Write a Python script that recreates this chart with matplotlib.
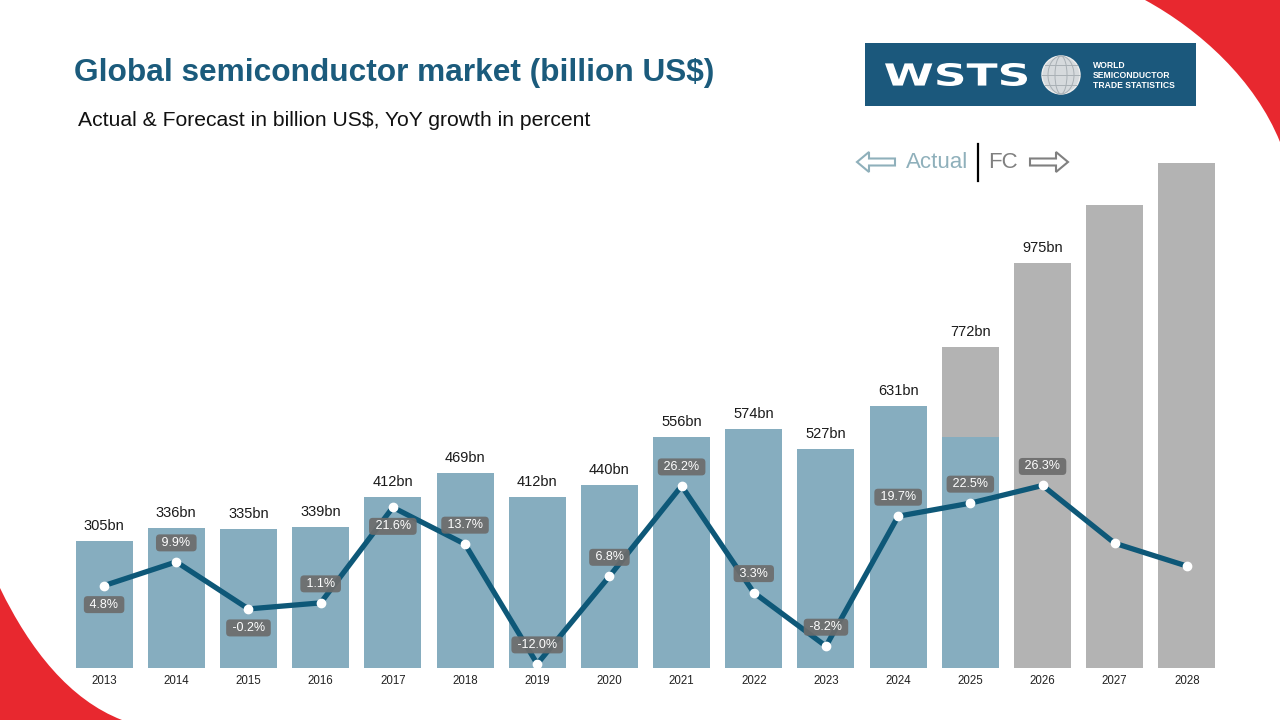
import matplotlib.pyplot as plt
import matplotlib.patches as mpatches
from matplotlib.path import Path
from matplotlib.textpath import TextPath
from matplotlib.font_manager import FontProperties
from matplotlib.transforms import Affine2D
import numpy as np

# data
years = ['2013', '2014', '2015', '2016', '2017', '2018', '2019', '2020',
         '2021', '2022', '2023', '2024', '2025', '2026', '2027', '2028']
market = [305, 336, 335, 339, 412, 469, 412, 440, 556, 574, 527, 631, 772, 975, 1113, 1215]
growth = [4.8, 9.9, -0.2, 1.1, 21.6, 13.7, -12.0, 6.8, 26.2, 3.3, -8.2, 19.7, 22.5, 26.3, 13.9, 9.0]
bar_labels = ['305bn', '336bn', '335bn', '339bn', '412bn', '469bn', '412bn', '440bn',
              '556bn', '574bn', '527bn', '631bn', '772bn', '975bn', '', '']
growth_labels = ['4.8%', '9.9%', '-0.2%', '1.1%', '21.6%', '13.7%', '-12.0%', '6.8%',
                 '26.2%', '3.3%', '-8.2%', '19.7%', '22.5%', '26.3%', '', '']
label_below = [True, False, True, False, True, False, False, False,
               False, False, False, False, False, False, False, False]
n_actual = 12          # 2013-2024 are actuals
actual_part_2025 = 556  # blue (actual) share of the 2025 bar

plt.rcParams['font.family'] = ['Liberation Sans', 'DejaVu Sans']

blue_bar = '#86adbf'
grey_bar = '#b3b3b3'
line_col = '#0e5878'
red = '#e8282f'

fig = plt.figure(figsize=(12.8, 7.2), dpi=100)

# background / decoration layer in pixel coordinates
bg = fig.add_axes([0, 0, 1, 1], zorder=0)
bg.set_xlim(0, 1280)
bg.set_ylim(720, 0)
bg.axis('off')

# red corner shapes
tr = Path([(1145, 0), (1200, 30), (1255, 80), (1280, 142), (1280, 0), (1145, 0)],
          [Path.MOVETO, Path.CURVE4, Path.CURVE4, Path.CURVE4, Path.LINETO, Path.CLOSEPOLY])
bg.add_patch(mpatches.PathPatch(tr, fc=red, ec='none'))
bl = Path([(0, 588), (30, 650), (70, 700), (122, 720), (0, 720), (0, 588)],
          [Path.MOVETO, Path.CURVE4, Path.CURVE4, Path.CURVE4, Path.LINETO, Path.CLOSEPOLY])
bg.add_patch(mpatches.PathPatch(bl, fc=red, ec='none'))

# title texts
bg.text(74, 73, 'Global semiconductor market (billion US$)', fontsize=22.8, fontweight='bold',
        color='#1b5b7c', va='center', ha='left')
bg.text(78, 121, 'Actual & Forecast in billion US$, YoY growth in percent', fontsize=15.2,
        color='#111111', va='center', ha='left')

# logo
bg.add_patch(mpatches.Rectangle((865, 43), 331, 63, fc='#1b587c', ec='none'))
tp = TextPath((0, 0), 'WSTS', prop=FontProperties(family='DejaVu Sans', weight='bold'))
ext = tp.get_extents()
sx = 142 / ext.width
sy = 23 / ext.height
tp = tp.transformed(Affine2D().translate(-ext.x0, -ext.y0).scale(sx, -sy).translate(885, 86))
bg.add_patch(mpatches.PathPatch(tp, fc='white', ec='none'))
bg.add_patch(mpatches.Circle((1061, 75), 19, fc='#d6dadd', ec='#eeeeee', lw=1))
for w in [6, 13]:
    bg.add_patch(mpatches.Ellipse((1061, 75), 2 * w, 38, fc='none', ec='#a9b0b5', lw=0.7))
for yy in [-10, 0, 10]:
    half = np.sqrt(19 ** 2 - yy ** 2)
    bg.plot([1061 - half, 1061 + half], [75 + yy, 75 + yy], color='#a9b0b5', lw=0.7)
for k, s in enumerate(['WORLD', 'SEMICONDUCTOR', 'TRADE STATISTICS']):
    bg.text(1093, 66 + k * 9.5, s, fontsize=6.2, fontweight='bold', color='white',
            va='center', ha='left')

# Actual | FC marker
bg.add_patch(mpatches.FancyArrow(895, 162, -38, 0, width=7, head_width=20, head_length=12,
                                 fc='white', ec='#8fb0bb', lw=1.5, length_includes_head=True))
bg.add_patch(mpatches.FancyArrow(1030, 162, 38, 0, width=7, head_width=20, head_length=12,
                                 fc='white', ec='#808080', lw=1.5, length_includes_head=True))
bg.text(968, 162, 'Actual', fontsize=16, color='#8fb0bb', ha='right', va='center')
bg.plot([978, 978], [144, 181], color='black', lw=1.6)
bg.text(988, 162, 'FC', fontsize=16, color='#808080', ha='left', va='center')

# main chart
ax = fig.add_axes([68 / 1280, 52 / 720, 1155 / 1280, 518 / 720], zorder=1)
ax.patch.set_alpha(0)
x = np.arange(len(years))
colors = [blue_bar if i < n_actual else grey_bar for i in range(len(years))]
ax.bar(x, market, width=0.79, color=colors, zorder=2)
ax.bar(12, actual_part_2025, width=0.79, color=blue_bar, zorder=3)
for i in range(len(years)):
    if bar_labels[i]:
        ax.annotate(bar_labels[i], (x[i], market[i]), xytext=(0, 15), textcoords='offset pixels',
                    ha='center', va='center', fontsize=10.5, color='#1a1a1a')
ax.set_xlim(-0.5, len(years) - 0.5)
ax.set_ylim(0, 1246)
ax.set_xticks(x)
ax.set_xticklabels(years, fontsize=8.3, color='#222222')
ax.tick_params(axis='x', length=0, pad=5)
ax.set_yticks([])
for sp in ax.spines.values():
    sp.set_visible(False)

ax2 = ax.twinx()
ax2.plot(x, growth, color=line_col, lw=3.8, zorder=4, solid_capstyle='round')
ax2.plot(x, growth, 'o', color='white', markersize=6, zorder=5)
for i in range(len(years)):
    if growth_labels[i]:
        off = -19 if label_below[i] else 19
        ax2.annotate(' ' + growth_labels[i] + ' ', (x[i], growth[i]), xytext=(0, off),
                     textcoords='offset pixels', ha='center', va='center', fontsize=9,
                     color='white', zorder=6,
                     bbox=dict(boxstyle='round,pad=0.2,rounding_size=0.3', fc='#6c6c6c',
                               ec='none', alpha=0.92))
ax2.set_ylim(-12.88, 98.3)
ax2.set_yticks([])
for sp in ax2.spines.values():
    sp.set_visible(False)

fig.savefig('out.png', dpi=100)
